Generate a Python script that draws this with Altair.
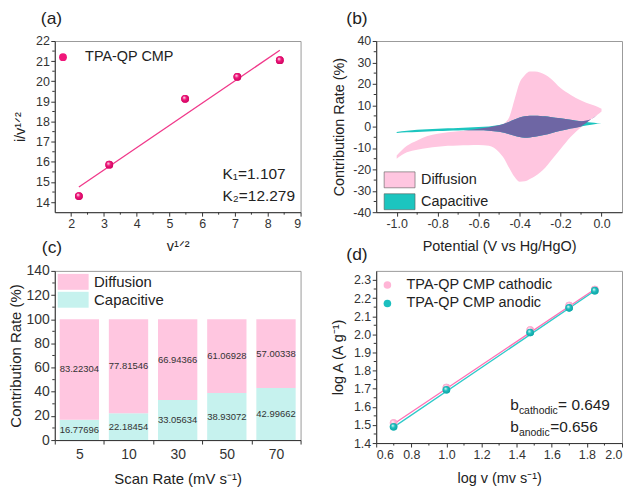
import altair as alt
import pandas as pd
import numpy as np

FONT = "Liberation Sans"
AXC = "#333333"

# ---------------- (a) data ----------------
a_x = [2.236, 3.162, 5.477, 7.071, 8.367]
a_y = [14.30, 15.86, 19.13, 20.22, 21.05]
a_fit_x = [2.236, 8.367]
a_fit_y = [14.75, 21.54]
a_series = ["TPA-QP CMP"]
a_note_x = [6.62, 6.62]
a_note_y = [15.38, 14.31]
a_note_text = ["K₁=1.107", "K₂=12.279"]
a_xticks = [2, 3, 4, 5, 6, 7, 8, 9]
a_xminor = [2.5, 3.5, 4.5, 5.5, 6.5, 7.5, 8.5]
a_yticks = [14, 15, 16, 17, 18, 19, 20, 21, 22]
a_yminor = [14.5, 15.5, 16.5, 17.5, 18.5, 19.5, 20.5, 21.5]

# ---------------- (b) data ----------------
b_pot = [-1.0, -0.95, -0.9, -0.85, -0.8, -0.75, -0.7, -0.65, -0.6, -0.55, -0.5, -0.475,
         -0.45, -0.425, -0.4, -0.375, -0.35, -0.325, -0.3, -0.275, -0.25, -0.2, -0.15,
         -0.1, -0.05, -0.02, 0.0]
b_diff_up = [-13.5, -9.0, -6.5, -4.4, -3.3, -2.6, -2.2, -1.6, -1.0, -0.3, 0.6, 1.6,
             4.5, 12.5, 20.5, 24.0, 25.7, 25.8, 25.3, 24.2, 22.6, 18.0, 14.8,
             12.2, 10.3, 9.3, 8.3]
b_diff_lo = [-15.0, -12.0, -10.8, -10.0, -9.4, -9.0, -8.8, -8.7, -8.6, -9.0, -12.0, -15.0,
             -19.5, -23.5, -25.8, -25.6, -24.5, -23.2, -21.5, -19.2, -16.3, -10.5, -4.8,
             -0.3, 3.5, 5.5, 7.0]
b_cap_up = [-2.5, -1.9, -1.5, -1.2, -1.0, -0.8, -0.6, -0.4, -0.2, 0.1, 0.7, 1.3,
            2.3, 3.3, 4.2, 4.8, 5.1, 5.1, 5.0, 4.8, 4.5, 3.9, 3.2,
            2.5, 1.9, 1.6, 1.5]
b_cap_lo = [-3.0, -2.7, -2.5, -2.3, -2.1, -1.9, -1.8, -1.7, -1.7, -1.9, -2.4, -2.9,
            -3.6, -4.3, -4.9, -5.2, -5.1, -4.8, -4.3, -3.8, -3.2, -2.0, -0.9,
            0.1, 0.9, 1.3, 1.5]
b_series = ["Diffusion", "Capacitive"]
b_xticks = [-1.0, -0.8, -0.6, -0.4, -0.2, 0.0]
b_xminor = [-0.9, -0.7, -0.5, -0.3, -0.1]
b_yticks = [-40, -30, -20, -10, 0, 10, 20, 30, 40]
b_yminor = [-35, -25, -15, -5, 5, 15, 25, 35]

# ---------------- (c) data ----------------
c_rates = ["5", "10", "30", "50", "70"]
c_diff = [83.22304, 77.81546, 66.94366, 61.06928, 57.00338]
c_cap = [16.77696, 22.18454, 33.05634, 38.93072, 42.99662]
c_series = ["Diffusion", "Capacitive"]
c_yticks = [0, 20, 40, 60, 80, 100, 120, 140]
c_yminor = [10, 30, 50, 70, 90, 110, 130]

# ---------------- (d) data ----------------
d_logv = [0.699, 1.0, 1.477, 1.699, 1.845]
d_cath = [1.51, 1.707, 2.024, 2.159, 2.247]
d_anod = [1.49, 1.694, 2.01, 2.146, 2.241]
d_fit_x = [0.699, 1.845]
d_fit_cath = [1.505, 2.249]
d_fit_anod = [1.488, 2.240]
d_series = ["TPA-QP CMP cathodic", "TPA-QP CMP anodic"]
d_note_x = [1.364, 1.364]
d_note_y = [1.609, 1.488]
d_note_sub = ["cathodic", "anodic"]
d_note_val = ["= 0.649", "=0.656"]
d_xticks = [0.6, 0.8, 1.0, 1.2, 1.4, 1.6, 1.8, 2.0]
d_xminor = [0.7, 0.9, 1.1, 1.3, 1.5, 1.7, 1.9]
d_yticks = [1.4, 1.5, 1.6, 1.7, 1.8, 1.9, 2.0, 2.1, 2.2, 2.3]
d_yminor = [1.45, 1.55, 1.65, 1.75, 1.85, 1.95, 2.05, 2.15, 2.25]

# colours
PINK = "#ffc6e0"
TEAL = "#1cc5bf"
PURPLE = "#6e66a4"
CYAN_L = "#c6f2ee"
MAG = "#f0177a"
MAG_LINE = "#f0388a"
D_PINK = "#ffb5d6"
D_TEAL = "#1bbfbf"
D_PINK_LINE = "#ff6fb5"
D_TEAL_LINE = "#2fc9c9"

# wide legend box drawn with a 16px "size" symbol
RECT = "M-1.94,-1H1.94V1H-1.94Z"


def sphere(mid, dark):
    return {"gradient": "radial", "x1": 0.36, "y1": 0.32, "r1": 0.0,
            "x2": 0.5, "y2": 0.5, "r2": 0.62,
            "stops": [{"offset": 0.0, "color": "#ffffff"},
                      {"offset": 0.4, "color": mid},
                      {"offset": 1.0, "color": dark}]}


def yminor(vals, scale, axis):
    return alt.Chart(pd.DataFrame({"m": vals})).mark_rule(color=AXC, strokeWidth=1).encode(
        y=alt.Y("m:Q", scale=scale, axis=axis), x=alt.value(-2.5), x2=alt.value(0))


def xminor(vals, scale, axis, h):
    return alt.Chart(pd.DataFrame({"m": vals})).mark_rule(color=AXC, strokeWidth=1).encode(
        x=alt.X("m:Q", scale=scale, axis=axis), y=alt.value(h), y2=alt.value(h + 2.5))


def neg_expr(fmt):
    return f"datum.value < 0 ? '-' + format(-datum.value, '{fmt}') : format(datum.value, '{fmt}')"


def ptitle(txt, dx, off):
    return alt.TitleParams(txt, dx=dx, offset=off, frame="group", anchor="start")


W = 247
H1 = 172

# ---------------- panel (a) ----------------
xs_a = alt.Scale(domain=[1.5, 9], nice=False, zero=False)
ys_a = alt.Scale(domain=[13.5, 22], nice=False, zero=False)
xax_a = alt.Axis(values=a_xticks, title="v¹ᐟ²", titlePadding=10)
yax_a = alt.Axis(values=a_yticks, title="i/v¹ᐟ²", titlePadding=8)
a_pts = pd.DataFrame({"x": a_x, "y": a_y, "s": a_series * len(a_x)})
a_fit = pd.DataFrame({"x": a_fit_x, "y": a_fit_y})
a_note = pd.DataFrame({"x": a_note_x, "y": a_note_y, "t": a_note_text})

a_line = alt.Chart(a_fit).mark_line(color=MAG_LINE, strokeWidth=1.3).encode(
    x=alt.X("x:Q", scale=xs_a, axis=xax_a), y=alt.Y("y:Q", scale=ys_a, axis=yax_a))
a_p1 = alt.Chart(a_pts).mark_circle(size=62, opacity=1).encode(
    x=alt.X("x:Q", scale=xs_a, axis=xax_a), y=alt.Y("y:Q", scale=ys_a, axis=yax_a),
    color=alt.Color("s:N", scale=alt.Scale(domain=a_series, range=[MAG]),
                    legend=alt.Legend(title=None, orient="none", legendX=1, legendY=9,
                                      symbolType="circle", symbolSize=62, labelFontSize=14.5,
                                      labelOffset=15, padding=0)))
a_p2 = alt.Chart(a_pts).mark_circle(size=62, opacity=1, fill=sphere(MAG, "#c4005a")).encode(
    x=alt.X("x:Q", scale=xs_a, axis=xax_a), y=alt.Y("y:Q", scale=ys_a, axis=yax_a))
a_txt = alt.Chart(a_note).mark_text(align="left", baseline="middle", fontSize=15.5,
                                    font=FONT, color="#222").encode(
    x=alt.X("x:Q", scale=xs_a, axis=xax_a), y=alt.Y("y:Q", scale=ys_a, axis=yax_a), text="t:N")
panel_a = alt.layer(a_line, a_p1, a_p2, a_txt, yminor(a_yminor, ys_a, yax_a),
                    xminor(a_xminor, xs_a, xax_a, H1)).properties(
    width=W, height=H1, title=ptitle("(a)", -14, 8))

# ---------------- panel (b) ----------------
xs_b = alt.Scale(domain=[-1.1, 0.1], nice=False, zero=False)
ys_b = alt.Scale(domain=[-40, 40], nice=False)
xax_b = alt.Axis(values=b_xticks, title="Potential (V vs Hg/HgO)", labelExpr=neg_expr(".1f"),
                 titlePadding=10)
yax_b = alt.Axis(values=b_yticks, title="Contribution Rate (%)", labelExpr=neg_expr("d"),
                 titlePadding=6)
b_df = pd.DataFrame({"pot": b_pot, "du": b_diff_up, "dl": b_diff_lo,
                     "cu": b_cap_up, "cl": b_cap_lo})
b_df["ol"] = np.maximum(b_df["dl"], b_df["cl"])
b_df["ou"] = np.maximum(b_df["ol"], np.minimum(b_df["du"], b_df["cu"]))
b_color = alt.Color("s:N", scale=alt.Scale(domain=b_series, range=[PINK, TEAL]),
                    legend=alt.Legend(title=None, orient="none", legendX=15, legendY=131,
                                      symbolType=RECT, symbolSize=256, labelFontSize=14.5,
                                      labelOffset=13, rowPadding=3, padding=0,
                                      symbolStrokeColor="#5a5a5a", symbolStrokeWidth=0.6))
b_diff = alt.Chart(b_df).transform_calculate(s="'Diffusion'").mark_area(
    interpolate="monotone", opacity=1).encode(
    x=alt.X("pot:Q", scale=xs_b, axis=xax_b), y=alt.Y("du:Q", scale=ys_b, axis=yax_b),
    y2="dl:Q", color=b_color)
b_cap = alt.Chart(b_df).transform_calculate(s="'Capacitive'").mark_area(
    interpolate="monotone", opacity=1).encode(
    x=alt.X("pot:Q", scale=xs_b, axis=xax_b), y=alt.Y("cu:Q", scale=ys_b, axis=yax_b),
    y2="cl:Q", color=b_color)
b_ov = alt.Chart(b_df).mark_area(interpolate="monotone", color=PURPLE, opacity=1).encode(
    x=alt.X("pot:Q", scale=xs_b, axis=xax_b), y=alt.Y("ou:Q", scale=ys_b, axis=yax_b),
    y2="ol:Q")
panel_b = alt.layer(b_diff, b_cap, b_ov, yminor(b_yminor, ys_b, yax_b),
                    xminor(b_xminor, xs_b, xax_b, H1)).properties(
    width=W, height=H1, title=ptitle("(b)", -30, 8))

# ---------------- panel (c) ----------------
H2c = 170
ys_c = alt.Scale(domain=[0, 140], nice=False)
yax_c = alt.Axis(values=c_yticks, title="Contribution Rate (%)", labelFontSize=14,
                 titleFontSize=15, titlePadding=2.5)
rows = []
for r, d, c in zip(c_rates, c_diff, c_cap):
    rows.append({"rate": r, "s": "Capacitive", "v": c, "o": 0, "mid": c / 2})
    rows.append({"rate": r, "s": "Diffusion", "v": d, "o": 1, "mid": c + d / 2})
c_df = pd.DataFrame(rows)
c_bar = alt.Chart(c_df).mark_bar(width={"band": 0.8}, opacity=1).encode(
    x=alt.X("rate:N", sort=c_rates, scale=alt.Scale(paddingInner=0, paddingOuter=0),
            axis=alt.Axis(title="Scan Rate (mV s⁻¹)", labelAngle=0, tickBand="extent",
                          labelFontSize=14, titleFontSize=15, titlePadding=10, labelPadding=4)),
    y=alt.Y("v:Q", stack="zero", scale=ys_c, axis=yax_c),
    color=alt.Color("s:N", scale=alt.Scale(domain=c_series, range=[PINK, CYAN_L]),
                    legend=alt.Legend(title=None, orient="none", legendX=10.5, legendY=3,
                                      symbolType=RECT, symbolSize=256, labelFontSize=15,
                                      labelOffset=13, rowPadding=2, padding=0,
                                      symbolStrokeWidth=0)),
    order=alt.Order("o:Q"))
c_txt = alt.Chart(c_df).mark_text(fontSize=9.5, font=FONT, color="#333").encode(
    x=alt.X("rate:N", sort=c_rates), y=alt.Y("mid:Q", scale=ys_c, axis=yax_c),
    text=alt.Text("v:Q", format=".5f"))
panel_c = alt.layer(c_bar, c_txt, yminor(c_yminor, ys_c, yax_c)).properties(
    width=W, height=H2c, title=ptitle("(c)", -13, 7))

# ---------------- panel (d) ----------------
H2d = 173
xs_d = alt.Scale(domain=[0.6, 2.0], nice=False, zero=False)
ys_d = alt.Scale(domain=[1.4, 2.35], nice=False, zero=False)
xax_d = alt.Axis(values=d_xticks, format=".1f", title="log v (mv s⁻¹)", titlePadding=11)
yax_d = alt.Axis(values=d_yticks, format=".1f", title="log A (A g⁻¹)", titlePadding=8)
d_pts = pd.DataFrame({"x": d_logv * 2, "y": d_cath + d_anod,
                      "s": [d_series[0]] * len(d_logv) + [d_series[1]] * len(d_logv)})
d_fit_c = pd.DataFrame({"x": d_fit_x, "y": d_fit_cath})
d_fit_a = pd.DataFrame({"x": d_fit_x, "y": d_fit_anod})
d_note = pd.DataFrame({"x": d_note_x, "y": d_note_y, "sub": d_note_sub, "val": d_note_val,
                       "b": ["b", "b"]})
d_col = alt.Scale(domain=d_series, range=[D_PINK, D_TEAL])
XD = alt.X("x:Q", scale=xs_d, axis=xax_d)
YD = alt.Y("y:Q", scale=ys_d, axis=yax_d)
d_line_c = alt.Chart(d_fit_c).mark_line(strokeWidth=1.3, color=D_PINK_LINE).encode(x=XD, y=YD)
d_line_a = alt.Chart(d_fit_a).mark_line(strokeWidth=1.3, color=D_TEAL_LINE).encode(x=XD, y=YD)
d_p1 = alt.Chart(d_pts).mark_circle(size=58, opacity=1).encode(
    x=XD, y=YD,
    color=alt.Color("s:N", scale=d_col,
                    legend=alt.Legend(title=None, orient="none", legendX=4, legendY=7,
                                      symbolType="circle", symbolSize=58, labelFontSize=14.5,
                                      labelOffset=12, rowPadding=3.5, padding=0)))
d_p2c = alt.Chart(d_pts[d_pts.s == d_series[0]]).mark_circle(
    size=58, opacity=1, fill=sphere(D_PINK, "#f29ac4")).encode(x=XD, y=YD)
d_p2a = alt.Chart(d_pts[d_pts.s == d_series[1]]).mark_circle(
    size=58, opacity=1, fill=sphere(D_TEAL, "#0f9c9c")).encode(x=XD, y=YD)
d_b = alt.Chart(d_note).mark_text(align="left", baseline="middle", fontSize=15.5, font=FONT,
                                  color="#222").encode(x=XD, y=YD, text="b:N")
d_sub = alt.Chart(d_note).mark_text(align="left", baseline="middle", fontSize=10.5, font=FONT,
                                    color="#222", dx=8.6, dy=6).encode(x=XD, y=YD, text="sub:N")
d_val_c = alt.Chart(d_note.iloc[[0]]).mark_text(align="left", baseline="middle", fontSize=15.5,
                                                font=FONT, color="#222", dx=48).encode(
    x=XD, y=YD, text="val:N")
d_val_a = alt.Chart(d_note.iloc[[1]]).mark_text(align="left", baseline="middle", fontSize=15.5,
                                                font=FONT, color="#222", dx=40).encode(
    x=XD, y=YD, text="val:N")
panel_d = alt.layer(d_line_c, d_line_a, d_p1, d_p2c, d_p2a, d_b, d_sub, d_val_c, d_val_a,
                    yminor(d_yminor, ys_d, yax_d), xminor(d_xminor, xs_d, xax_d, H2d)).properties(
    width=W, height=H2d, title=ptitle("(d)", -30, 7))

chart = alt.concat(panel_a, panel_b, panel_c, panel_d, columns=2, bounds="flush",
                   spacing={"row": 59, "column": 76}).resolve_scale(
    color="independent", x="independent", y="independent"
).properties(
    padding={"left": 0, "top": 0, "right": 0, "bottom": 0}
).configure(font=FONT, background="white").configure_view(
    stroke="#9a9a9a", strokeWidth=1
).configure_axis(
    domainColor=AXC, tickColor=AXC, labelColor="#333", titleColor="#222", grid=False,
    tickSize=4, labelFont=FONT, titleFont=FONT, titleFontWeight="normal",
    labelFontSize=12.5, titleFontSize=14.5, labelPadding=1.5
).configure_legend(
    labelFont=FONT, labelColor="#222"
).configure_title(
    font=FONT, fontWeight="normal", fontSize=17.5, color="#222"
)

chart.save("out.html", embed_options={"renderer": "svg", "actions": False})
